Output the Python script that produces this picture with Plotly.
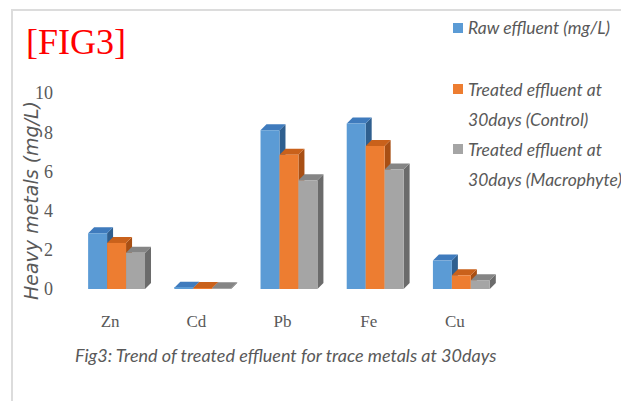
import plotly.graph_objects as go

# Heavy metal concentrations (mg/L)
metals = ["Zn", "Cd", "Pb", "Fe", "Cu"]
raw_effluent = [2.85, 0.06, 8.1, 8.45, 1.45]
treated_control = [2.35, 0.05, 6.85, 7.3, 0.7]
treated_macrophyte = [1.85, 0.04, 5.55, 6.1, 0.45]
series_names = [
    "Raw effluent (mg/L)",
    "Treated effluent at 30days (Control)",
    "Treated effluent at 30days (Macrophyte)",
]
legend_lines = [
    ["Raw effluent (mg/L)"],
    ["Treated effluent at", "30days (Control)"],
    ["Treated effluent at", "30days (Macrophyte)"],
]
y_ticks = [0, 2, 4, 6, 8, 10]

front_colors = ["#5b9bd5", "#ed7d31", "#a5a5a5"]
top_colors = ["#3f7bbd", "#c9611b", "#858585"]
side_colors = ["#2f5f8f", "#a84f14", "#6b6b6b"]

W, H = 621, 401
M_L, M_R, M_T, M_B = 67, 123, 93, 112
plot_w = W - M_L - M_R
plot_h = H - M_T - M_B
x_range = [-0.5, 4.5]
y_range = [0, 10]
px_x = plot_w / (x_range[1] - x_range[0])
px_y = plot_h / (y_range[1] - y_range[0])

bar_w = 0.22
offsets = [-0.255, -0.035, 0.185]
# depth of the pseudo-3D faces, in pixels, converted to data units
dx = 6 / px_x
dy = 6 / px_y

fig = go.Figure()
all_series = [raw_effluent, treated_control, treated_macrophyte]
xs = list(range(len(metals)))

shapes = []
for s, vals in enumerate(all_series):
    fig.add_trace(go.Bar(
        x=xs, y=vals, name=series_names[s], width=bar_w, offset=offsets[s],
        marker=dict(color=front_colors[s], line=dict(width=0)),
        showlegend=False, hoverinfo="y",
    ))
    for j, v in enumerate(vals):
        xl = xs[j] + offsets[s]
        xr = xl + bar_w
        side = (f"M {xr},0 L {xr+dx},{dy} L {xr+dx},{v+dy} L {xr},{v} Z")
        top = (f"M {xl},{v} L {xl+dx},{v+dy} L {xr+dx},{v+dy} L {xr},{v} Z")
        shapes.append(dict(type="path", path=side, xref="x", yref="y",
                           fillcolor=side_colors[s], line=dict(width=0), layer="below"))
        shapes.append(dict(type="path", path=top, xref="x", yref="y",
                           fillcolor=top_colors[s], line=dict(width=0), layer="below"))

def px_to_paper_x(px):
    return (px - M_L) / plot_w

def px_to_paper_y(py):
    return (H - M_B - py) / plot_h

# outer chart frame
shapes.append(dict(type="rect", xref="paper", yref="paper",
                   x0=px_to_paper_x(12), x1=px_to_paper_x(660),
                   y0=px_to_paper_y(440), y1=px_to_paper_y(10),
                   line=dict(color="#dcdcdc", width=2), fillcolor="rgba(0,0,0,0)",
                   layer="above"))

annotations = []
text_color = "#595959"
sans = "Lato, 'Open Sans', sans-serif"
serif = "Liberation Serif, Times New Roman, serif"

# legend: coloured squares with wrapped labels
legend_rows = [28, 89, 149]
line_gap = 30
for s, lines in enumerate(legend_lines):
    yc = legend_rows[s]
    shapes.append(dict(type="rect", xref="paper", yref="paper",
                       x0=px_to_paper_x(453), x1=px_to_paper_x(463),
                       y0=px_to_paper_y(yc + 5), y1=px_to_paper_y(yc - 5),
                       fillcolor=front_colors[s], line=dict(width=0)))
    for k, line in enumerate(lines):
        annotations.append(dict(
            text=f"<i>{line}</i>", xref="paper", yref="paper",
            x=px_to_paper_x(466), y=px_to_paper_y(yc + k * line_gap),
            xanchor="left", yanchor="middle", showarrow=False,
            font=dict(family=sans, size=17.5, color=text_color),
        ))

# heading tag
annotations.append(dict(
    text="[FIG3]", xref="paper", yref="paper",
    x=px_to_paper_x(76), y=px_to_paper_y(42),
    xanchor="center", yanchor="middle", showarrow=False,
    font=dict(family=serif, size=36, color="#ff0000"),
))

# y-axis title
annotations.append(dict(
    text="<i>Heavy metals (mg/L)</i>", xref="paper", yref="paper",
    x=px_to_paper_x(31), y=px_to_paper_y(201), textangle=-90,
    xanchor="center", yanchor="middle", showarrow=False,
    font=dict(family="DejaVu Sans, sans-serif", size=19, color=text_color),
))

# caption
annotations.append(dict(
    text="<i>Fig3: Trend of treated effluent for trace metals at 30days</i>",
    xref="paper", yref="paper",
    x=px_to_paper_x(73), y=px_to_paper_y(355),
    xanchor="left", yanchor="middle", showarrow=False,
    font=dict(family=sans, size=18, color=text_color),
))

fig.update_layout(
    width=W, height=H,
    margin=dict(l=M_L, r=M_R, t=M_T, b=M_B, pad=0),
    paper_bgcolor="white", plot_bgcolor="white",
    barmode="overlay",
    shapes=shapes, annotations=annotations,
    xaxis=dict(range=x_range, tickvals=xs, ticktext=metals,
               showgrid=False, zeroline=False, showline=False, ticks="",
               tickfont=dict(family=serif, size=17, color=text_color),
               ticklabelstandoff=20, fixedrange=True),
    yaxis=dict(range=y_range, tickvals=y_ticks,
               showgrid=False, zeroline=False, showline=False, ticks="",
               tickfont=dict(family=serif, size=18, color=text_color),
               ticklabelstandoff=13, fixedrange=True),
)

fig.write_html("out.html")
